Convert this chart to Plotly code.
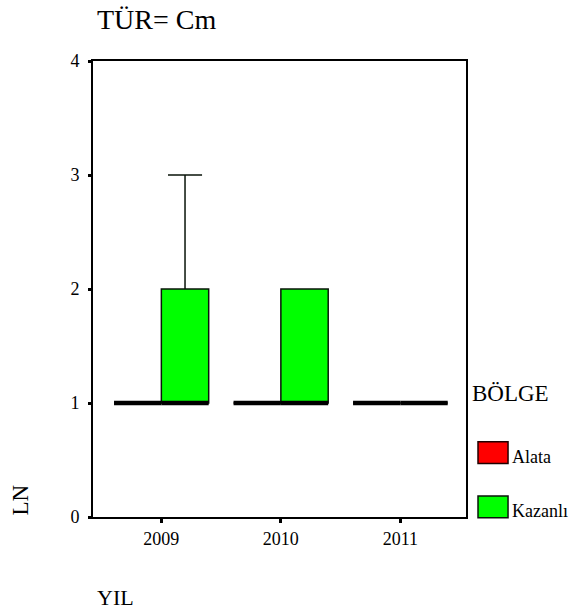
import plotly.graph_objects as go

# ---- data ----
years = ["2009", "2010", "2011"]
bolge = ["Alata", "Kazanlı"]
colors = ["#ff0000", "#00ff00"]
edge_colors = ["#200000", "#0a140a"]

# box statistics per region (per year)
alata_q1 = [1, 1, 1]
alata_median = [1, 1, 1]
alata_q3 = [1, 1, 1]
alata_low = [1, 1, 1]
alata_high = [1, 1, 1]

kaz_q1 = [1, 1, 1]
kaz_median = [1, 1, 1]
kaz_q3 = [2, 2, 1]
kaz_low = [1, 1, 1]
kaz_high = [3, 2, 1]

stats = [
    (alata_q1, alata_median, alata_q3, alata_low, alata_high),
    (kaz_q1, kaz_median, kaz_q3, kaz_low, kaz_high),
]

SERIF = "Liberation Serif"
box_w = 0.396
offsets = [-box_w / 2, box_w / 2]

fig = go.Figure()
for k, name in enumerate(bolge):
    q1, med, q3, lo, hi = stats[k]
    pos = [i + offsets[k] for i in range(len(years))]
    fig.add_trace(go.Box(
        x=pos, q1=q1, median=med, q3=q3, lowerfence=lo, upperfence=hi,
        width=box_w, whiskerwidth=0.72, name=name,
        fillcolor=colors[k], line=dict(color=edge_colors[k], width=1.5),
        boxpoints=False, showlegend=False,
    ))
# thick median lines
for k, name in enumerate(bolge):
    med = stats[k][1]
    xs, ys = [], []
    for i in range(len(years)):
        c = i + offsets[k]
        xs += [c - box_w / 2, c + box_w / 2, None]
        ys += [med[i], med[i], None]
    fig.add_trace(go.Scatter(x=xs, y=ys, mode="lines",
                             line=dict(color="black", width=4.5),
                             showlegend=False, hoverinfo="skip"))

# ---- manual legend ----
px_w, px_h = 372.7, 456.0
def px2x(px):
    return (px - 93) / px_w
def px2y(py):
    return (517 - py) / px_h

sw_tops = [441.7, 496.0]
lab_y = [457.0, 510.7]
for k, name in enumerate(bolge):
    fig.add_shape(type="rect", xref="paper", yref="paper",
                  x0=px2x(477.7), x1=px2x(507.7),
                  y0=px2y(sw_tops[k] + 21.7), y1=px2y(sw_tops[k]),
                  fillcolor=colors[k], line=dict(color=edge_colors[k], width=1.5))
    fig.add_annotation(text=name, xref="paper", yref="paper",
                       x=px2x(510), y=px2y(lab_y[k]), xanchor="left", yanchor="middle",
                       showarrow=False, font=dict(family=SERIF, size=18, color="black"))

fig.add_annotation(text="BÖLGE", xref="paper", yref="paper",
                   x=px2x(470), y=px2y(393), xanchor="left", yanchor="middle",
                   showarrow=False, font=dict(family=SERIF, size=23, color="black"))
fig.add_annotation(text="TÜR= Cm", xref="paper", yref="paper",
                   x=px2x(95), y=px2y(19), xanchor="left", yanchor="middle",
                   showarrow=False, font=dict(family=SERIF, size=28, color="black"))
fig.add_annotation(text="YIL", xref="paper", yref="paper",
                   x=px2x(95), y=px2y(597), xanchor="left", yanchor="middle",
                   showarrow=False, font=dict(family=SERIF, size=22, color="black"))
fig.add_annotation(text="LN", xref="paper", yref="paper", textangle=-90,
                   x=px2x(21), y=px2y(499.5), xanchor="center", yanchor="middle",
                   showarrow=False, font=dict(family=SERIF, size=23, color="black"))

fig.update_layout(
    width=572, height=614,
    margin=dict(l=93, r=106, t=61, b=97),
    paper_bgcolor="white", plot_bgcolor="white",
    font=dict(family=SERIF, color="black"),
    boxmode="overlay",
    showlegend=False,
    xaxis=dict(range=[-0.572, 2.549], tickvals=list(range(len(years))), ticktext=years,
               showgrid=False, zeroline=False, showline=True, linecolor="black",
               linewidth=2, mirror=True, ticks="outside", ticklen=4, tickwidth=3,
               tickcolor="black", ticklabelstandoff=0,
               tickfont=dict(family=SERIF, size=18, color="black")),
    yaxis=dict(range=[0, 4], tickvals=[0, 1, 2, 3, 4],
               showgrid=False, zeroline=False, showline=True, linecolor="black",
               linewidth=2, mirror=True, ticks="outside", ticklen=3, tickwidth=3,
               tickcolor="black", ticklabelstandoff=5,
               tickfont=dict(family=SERIF, size=18, color="black")),
)

fig.write_html("out.html", config={"displayModeBar": False},
               post_script="document.body.style.margin='0';")
